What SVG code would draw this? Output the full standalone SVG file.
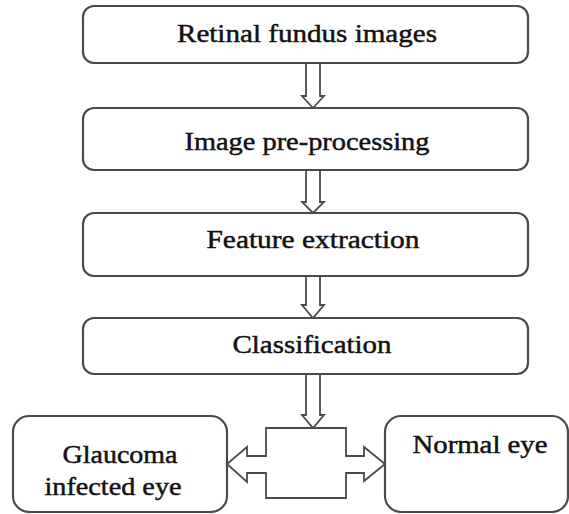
<svg xmlns="http://www.w3.org/2000/svg" width="569" height="514" viewBox="0 0 569 514">
<style>
.box{fill:#fff;stroke:#4a4a4a;stroke-width:2.2}
.arr{fill:#fff;stroke:#4a4a4a;stroke-width:1.8;stroke-linejoin:miter}
.t{font-family:"Liberation Serif","Times New Roman",serif;font-size:25px;fill:#111;stroke:#111;stroke-width:0.45;text-anchor:middle}
</style>
<rect width="569" height="514" fill="#fff"/>
<g id="connectors">
<polygon class="arr" points="306,63 320,63 320,96 324,96 313,108 302,96 306,96"/>
<polygon class="arr" points="306,170 320,170 320,202 324,202 313,213 302,202 306,202"/>
<polygon class="arr" points="306,276 320,276 320,305 324,305 313,318 302,305 306,305"/>
<polygon class="arr" points="306,374 320,374 320,415 324,415 313,428 302,415 306,415"/>
<polygon class="arr" points="266,428 346,428 346,456 364,456 364,447 385,464 364,481 364,473 346,473 346,498 266,498 266,473 247,473 247,482 227,464 247,447 247,456 266,456"/>
</g>
<g id="n1"><rect class="box" x="83" y="6" width="445" height="57" rx="11"/><text class="t" x="307" y="42" textLength="260" lengthAdjust="spacingAndGlyphs">Retinal fundus images</text></g>
<g id="n2"><rect class="box" x="83" y="108" width="445" height="62" rx="11"/><text class="t" x="307" y="150" textLength="245" lengthAdjust="spacingAndGlyphs">Image pre-processing</text></g>
<g id="n3"><rect class="box" x="83" y="213" width="445" height="63" rx="11"/><text class="t" x="313" y="248" textLength="213" lengthAdjust="spacingAndGlyphs">Feature extraction</text></g>
<g id="n4"><rect class="box" x="83" y="318" width="445" height="56" rx="11"/><text class="t" x="312" y="353" textLength="159" lengthAdjust="spacingAndGlyphs">Classification</text></g>
<g id="n5"><rect class="box" x="13" y="416" width="214" height="96" rx="16"/><text class="t" x="120" y="463" textLength="115" lengthAdjust="spacingAndGlyphs">Glaucoma</text><text class="t" x="113" y="495" textLength="137" lengthAdjust="spacingAndGlyphs">infected eye</text></g>
<g id="n6"><rect class="box" x="385" y="416" width="183" height="96" rx="16"/><text class="t" x="480" y="453" textLength="135" lengthAdjust="spacingAndGlyphs">Normal eye</text></g>
</svg>
